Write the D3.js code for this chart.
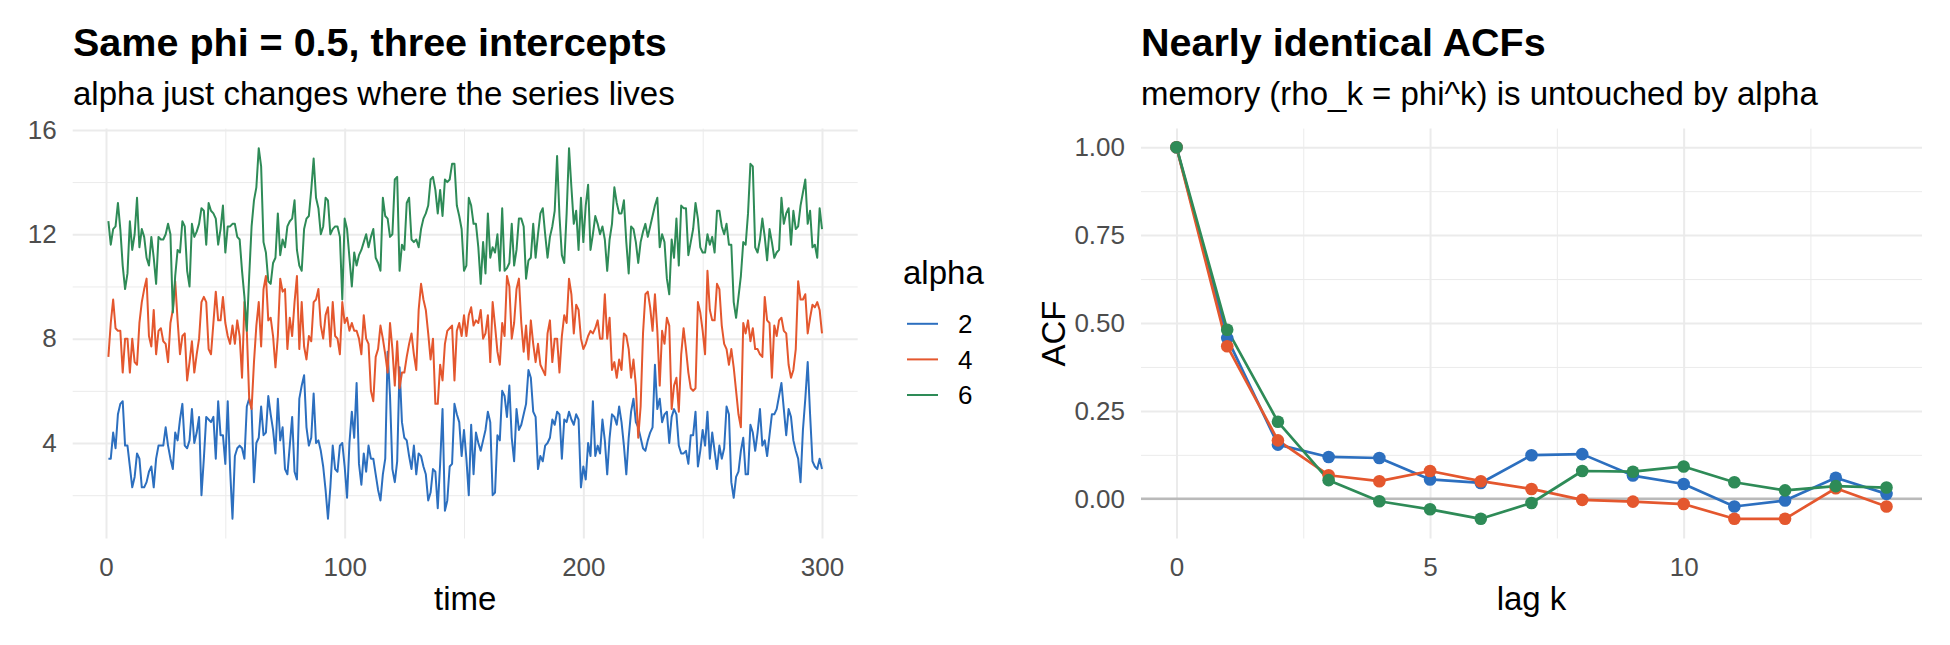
<!DOCTYPE html>
<html>
<head>
<meta charset="utf-8">
<script src="https://cdn.jsdelivr.net/npm/d3@7"></script>
<style>
  body { margin:0; background:#ffffff; }
  svg { font-family: "Liberation Sans", Arial, sans-serif; display:block; }
  .gridMajor line { stroke:#ebebeb; stroke-width:2; }
  .gridMinor line { stroke:#ebebeb; stroke-width:1; }
  .tickText text { fill:#4d4d4d; font-size:26px; font-family:"Liberation Sans", Arial, sans-serif; }
  .title { font-size:39.5px; font-weight:bold; fill:#000; }
  .subtitle { font-size:33px; fill:#000; }
  .label { font-size:33px; fill:#000; }
  .legendText { font-size:26px; fill:#000; }
</style>
</head>
<body>
<svg id="chart"></svg>
<script>
//simulated AR(1) series, one value per time step 1..300
var alpha2 = [3.4,3.4,4.4,3.8,5.1,5.5,5.6,3.9,3.9,3.1,2.3,2.7,3.6,3.4,2.3,2.3,2.5,2.9,3.1,2.3,
  3.4,3.9,3.9,3.9,4.6,3.9,3.4,3.0,4.4,4.1,4.9,5.5,3.9,3.8,4.1,5.3,4.0,4.4,5.0,2.0,
  3.4,5.0,4.9,4.8,5.0,3.4,5.6,4.3,4.3,3.2,5.6,3.0,1.1,3.5,3.8,3.9,3.8,3.4,5.4,5.7,
  5.3,2.5,4.0,4.2,5.4,4.3,4.4,5.8,5.1,4.5,3.6,5.7,
  4.1,4.6,3.0,2.8,3.9,5.0,2.9,2.6,5.7,6.2,6.6,4.6,3.9,4.2,5.9,4.0,4.1,3.7,3.1,2.2,
  1.1,2.3,3.9,3.0,2.9,3.9,4.0,3.1,1.9,4.0,5.2,4.2,6.3,3.2,2.4,3.6,2.9,3.9,3.4,3.4,
  2.8,2.2,1.8,2.8,3.4,7.5,5.8,3.0,2.5,3.3,6.9,4.8,4.2,4.1,3.5,3.0,3.9,2.8,3.6,3.5,
  3.1,2.8,1.8,2.1,3.0,2.9,1.5,3.2,5.3,1.4,1.8,3.1,3.2,5.5,5.1,4.8,3.5,4.5,3.4,2.0,
  4.7,2.8,4.4,4.0,3.7,4.1,4.5,5.2,4.8,2.0,2.1,4.3,4.1,6.0,5.8,5.0,6.2,4.2,3.3,5.3,
  4.5,4.7,5.1,5.5,6.8,6.5,5.2,5.0,3.0,3.5,3.3,3.9,4.0,4.2,4.9,4.7,5.2,5.1,3.4,4.9,
  4.8,5.2,4.9,4.7,5.1,4.9,2.3,3.1,2.6,4.0,3.5,5.6,3.5,3.9,3.6,4.9,4.1,2.8,4.2,5.1,
  5.0,4.7,5.4,4.8,3.9,2.8,4.2,5.2,5.7,4.8,4.6,4.2,3.8,3.7,4.1,4.4,
  4.6,7.0,5.3,5.7,4.8,5.1,5.2,4.0,5.0,5.3,5.1,3.9,3.6,3.6,3.7,3.2,4.3,4.3,5.2,3.1,
  3.7,4.5,3.9,5.2,3.4,4.4,3.7,3.0,3.9,3.4,3.8,5.4,5.1,2.5,1.9,2.7,2.9,3.7,4.2,2.8,
  2.8,4.7,4.4,3.7,4.4,5.3,3.9,4.1,3.5,4.3,5.1,5.1,5.3,5.8,6.3,5.3,4.3,5.3,5.0,4.1,
  3.7,3.4,2.5,4.5,5.7,7.1,5.1,3.3,3.1,3.0,3.4,3.0]

var alpha4 = [7.3,8.6,9.5,8.4,8.3,8.3,6.7,8.0,8.0,6.7,8.0,7.1,7.0,8.6,9.4,9.9,10.3,8.1,7.7,9.1,
  7.4,8.3,8.4,7.9,7.8,7.1,8.6,9.1,10.2,8.7,7.4,8.1,8.2,6.4,7.1,7.9,6.7,7.4,8.0,9.4,
  9.6,9.4,7.6,
  7.4,8.6,9.8,8.7,8.7,9.6,8.6,8.1,7.8,8.5,7.8,8.7,8.1,6.5,9.4,8.3,5.7,5.3,7.1,8.5,
  9.4,7.7,9.9,10.4,8.7,8.8,8.1,6.9,8.1,10.3,9.8,9.9,7.6,8.8,8.1,9.4,10.4,
  7.6,9.4,7.7,7.2,8.1,7.9,9.4,9.5,9.9,8.5,8.0,8.9,9.2,7.7,9.4,8.1,8.0,7.4,9.4,8.6,
  8.8,8.3,8.6,8.3,8.3,8.0,7.4,8.9,8.0,7.8,6.0,5.6,7.3,7.6,8.5,8.0,7.4,6.7,8.6,7.6,
  6.2,7.9,6.1,6.7,6.7,7.3,7.8,8.2,7.4,6.8,9.1,10.1,9.5,9.1,8.2,7.2,8.0,5.5,5.5,7.0,
  6.4,7.8,8.3,8.4,8.5,6.4,8.3,8.6,8.1,8.9,8.1,8.9,
  9.2,8.5,8.7,8.6,9.1,8.0,8.2,8.9,7.1,9.4,8.5,7.5,7.0,8.6,8.1,10.4,10.0,8.0,8.6,9.9,
  10.3,8.6,7.5,8.5,7.2,8.7,7.8,7.1,7.8,7.0,6.8,6.6,8.2,8.7,7.1,8.0,8.0,6.7,8.1,8.9,
  8.6,10.3,9.7,8.2,9.3,9.1,8.0,7.6,7.8,8.1,8.3,8.2,8.4,8.7,8.0,8.0,9.7,8.0,8.8,6.8,
  7.1,6.5,7.2,6.8,8.2,8.1,7.6,6.5,7.2,6.2,4.2,5.4,8.2,9.7,9.8,9.2,
  8.3,9.7,8.3,6.2,8.3,7.8,8.8,8.5,5.3,6.2,6.5,5.2,7.4,8.4,7.6,6.7,6.1,6.0,6.1,9.4,
  9.0,8.3,7.4,10.6,9.1,8.7,8.7,10.1,9.9,8.5,7.8,7.6,7.0,7.6,6.9,6.0,5.1,4.6,8.6,8.2,
  8.7,7.9,8.4,7.6,7.6,7.4,7.3,9.6,8.7,8.6,6.5,8.5,8.1,8.7,8.8,8.3,8.2,7.0,6.5,6.8,
  7.6,10.2,9.5,9.5,9.7,8.2,8.8,9.3,9.2,9.4,9.1,8.2]

var alpha6 = [12.5,11.6,12.2,12.3,13.2,12.2,10.8,9.9,10.5,12.5,11.4,12.0,13.4,11.5,12.2,11.9,11.1,10.8,11.9,11.1,
  10.1,11.9,11.8,11.8,12.0,12.4,12.0,9.0,10.4,11.4,11.3,12.5,12.3,10.6,10.0,12.4,11.9,12.1,12.4,13.0,
  12.9,11.6,13.2,12.9,12.8,12.6,11.6,12.2,13.1,11.3,12.3,12.3,12.4,12.4,11.9,11.8,10.6,9.6,8.3,10.4,
  12.3,13.3,13.8,15.3,14.6,11.7,11.3,10.2,10.1,10.9,11.1,12.8,11.2,11.8,11.5,12.3,12.5,12.6,13.3,11.4,
  10.8,10.6,12.2,12.6,12.7,13.7,14.9,13.4,13.0,12.0,12.3,13.4,13.3,12.0,12.2,12.3,12.3,11.9,9.5,12.6,
  12.2,11.1,10.0,11.3,10.8,11.2,11.4,11.7,12.0,11.5,11.9,12.2,11.1,10.9,10.6,13.4,12.7,12.6,11.9,12.0,
  14.1,14.2,10.6,11.6,11.4,13.2,13.4,11.8,11.7,11.8,11.5,12.2,12.6,12.8,13.1,14.1,14.2,13.7,12.8,13.7,
  12.7,14.1,14.0,14.1,14.7,14.7,13.1,12.7,12.2,10.6,10.8,13.4,13.1,12.4,12.4,11.5,10.1,11.7,10.5,12.8,
  11.1,11.5,11.3,12.0,10.6,13.0,10.6,10.7,10.9,12.4,10.8,11.4,12.6,12.6,12.3,10.3,11.0,11.1,12.4,11.1,
  12.0,12.8,13.0,12.0,11.1,11.9,12.3,12.9,15.0,12.7,11.2,10.9,12.8,15.3,13.8,12.4,12.9,11.4,13.4,11.7,
  13.1,13.9,11.4,12.0,12.7,12.4,12.0,12.3,11.8,10.6,11.8,12.4,13.8,13.2,12.8,12.8,13.3,11.7,10.5,12.3,
  12.2,11.7,10.9,11.7,12.1,12.4,11.9,12.3,12.7,13.1,13.4,11.5,12.0,11.7,10.3,9.7,11.8,11.1,12.6,10.8,
  13.1,13.0,13.0,11.2,11.7,12.2,13.2,12.6,11.5,11.3,11.3,12.0,11.6,11.9,11.3,12.9,12.9,12.3,12.0,12.4,
  11.6,11.6,9.4,8.8,9.6,10.4,11.7,11.6,12.8,14.7,14.6,11.5,11.3,11.8,12.6,11.9,11.0,12.2,11.7,11.1,
  11.3,11.4,13.4,12.4,12.8,13.0,11.6,12.9,12.2,12.3,13.1,13.6,14.1,12.4,12.9,11.5,11.6,11.1,13.0,12.2]

//sample autocorrelations by lag
var lags = [0,1,2,3,4,5,6,7,8,9,10,11,12,13,14]
var acf2 = [1,0.457,0.154,0.119,0.116,0.055,0.045,0.124,0.127,0.066,0.042,-0.022,-0.005,0.060,0.014]
var acf4 = [1,0.434,0.166,0.067,0.050,0.079,0.050,0.028,-0.003,-0.008,-0.015,-0.057,-0.057,0.030,-0.022]
var acf6 = [1,0.481,0.219,0.053,-0.007,-0.030,-0.057,-0.012,0.079,0.077,0.092,0.047,0.024,0.036,0.032]

var alphaLevels = ["2","4","6"]
var alphaColors = ["#2c6fbf","#e4572e","#2e8b57"]

//tick values
var timeTicks = [0,100,200,300]
var timeMinor = [50,150,250]
var levelTicks = [4,8,12,16]
var levelMinor = [2,6,10,14]
var lagTicks = [0,5,10]
var lagMinor = [2.5,7.5,12.5]
var acfTicks = [0,0.25,0.5,0.75,1]
var acfMinor = [0.125,0.375,0.625,0.875]

//draws minor and major grid lines plus tick labels for one panel
var drawGrid = function(target,panel,xScale,yScale,xMajor,xMinor,yMajor,yMinor,yFormat)
{
    target.append("g")
          .classed("gridMinor",true)
          .call(d3.axisLeft(yScale).tickValues(yMinor).tickSize(-panel.width).tickFormat(""))
    target.append("g")
          .classed("gridMinor",true)
          .attr("transform","translate(0,"+panel.height+")")
          .call(d3.axisBottom(xScale).tickValues(xMinor).tickSize(-panel.height).tickFormat(""))

    target.append("g")
          .classed("gridMajor",true)
          .classed("tickText",true)
          .call(d3.axisLeft(yScale).tickValues(yMajor).tickSize(-panel.width).tickPadding(16).tickFormat(yFormat))
    target.append("g")
          .classed("gridMajor",true)
          .classed("tickText",true)
          .attr("transform","translate(0,"+panel.height+")")
          .call(d3.axisBottom(xScale).tickValues(xMajor).tickSize(-panel.height).tickPadding(19))

    target.selectAll(".domain").remove()
    target.selectAll("g").attr("font-family",null).attr("font-size",null)
}

//left panel: the three series over time
var drawSeries = function(svg)
{
    var panel = {x:72.7,y:128.6,width:785,height:409.9}

    var xScale = d3.scaleLinear()
        .domain([-13.95,314.95])
        .range([0,panel.width])
    var yScale = d3.scaleLinear()
        .domain([0.34,16.05])
        .range([panel.height,0])

    var target = svg.append("g")
        .attr("transform","translate("+panel.x+","+panel.y+")")

    drawGrid(target,panel,xScale,yScale,timeTicks,timeMinor,levelTicks,levelMinor,d3.format("d"))

    var line = d3.line()
        .x(function(d,i){return xScale(i+1)})
        .y(function(d){return yScale(d)})

    var series = [alpha2,alpha4,alpha6]
    target.selectAll(".series")
        .data(series)
        .enter()
        .append("path")
        .classed("series",true)
        .attr("d",line)
        .attr("fill","none")
        .attr("stroke",function(d,i){return alphaColors[i]})
        .attr("stroke-width",2)
        .attr("stroke-linejoin","round")

    //labels
    svg.append("text").classed("title",true)
       .text("Same phi = 0.5, three intercepts")
       .attr("x",73).attr("y",56)
    svg.append("text").classed("subtitle",true)
       .text("alpha just changes where the series lives")
       .attr("x",73).attr("y",105)
    svg.append("text").classed("label",true)
       .text("time")
       .attr("text-anchor","middle")
       .attr("x",panel.x+panel.width/2)
       .attr("y",610)
}

var drawLegend = function(svg)
{
    var legend = svg.append("g")
        .attr("transform","translate(903,0)")

    legend.append("text").classed("label",true)
          .text("alpha")
          .attr("x",0).attr("y",284)

    var entries = legend.selectAll(".legendEntry")
        .data(alphaLevels)
        .enter()
        .append("g")
        .classed("legendEntry",true)
        .attr("transform",function(d,i){return "translate(0,"+(323.8+i*35.6)+")"})

    entries.append("line")
           .attr("x1",4).attr("x2",35)
           .attr("y1",0).attr("y2",0)
           .attr("stroke",function(d,i){return alphaColors[i]})
           .attr("stroke-width",2)

    entries.append("text").classed("legendText",true)
           .text(function(d){return d})
           .attr("x",55)
           .attr("y",9.3)
}

//right panel: acf by lag
var drawAcf = function(svg)
{
    var panel = {x:1141,y:128.6,width:781,height:409.9}

    var xScale = d3.scaleLinear()
        .domain([-0.7,14.7])
        .range([0,panel.width])
    var yScale = d3.scaleLinear()
        .domain([-0.113,1.053])
        .range([panel.height,0])

    var target = svg.append("g")
        .attr("transform","translate("+panel.x+","+panel.y+")")

    drawGrid(target,panel,xScale,yScale,lagTicks,lagMinor,acfTicks,acfMinor,d3.format(".2f"))

    //zero reference line
    target.append("line")
          .attr("x1",0).attr("x2",panel.width)
          .attr("y1",yScale(0)).attr("y2",yScale(0))
          .attr("stroke","#bababa")
          .attr("stroke-width",2.5)

    var line = d3.line()
        .x(function(d,i){return xScale(lags[i])})
        .y(function(d){return yScale(d)})

    var series = [acf2,acf4,acf6]
    target.selectAll(".acfLine")
        .data(series)
        .enter()
        .append("path")
        .classed("acfLine",true)
        .attr("d",line)
        .attr("fill","none")
        .attr("stroke",function(d,i){return alphaColors[i]})
        .attr("stroke-width",2.7)
        .attr("stroke-linejoin","round")

    series.forEach(function(values,k)
    {
        target.selectAll(".pts"+k)
            .data(values)
            .enter()
            .append("circle")
            .classed("pts"+k,true)
            .attr("cx",function(d,i){return xScale(lags[i])})
            .attr("cy",function(d){return yScale(d)})
            .attr("r",6.3)
            .attr("fill",alphaColors[k])
    })

    svg.append("text").classed("title",true)
       .text("Nearly identical ACFs")
       .attr("x",1141).attr("y",56)
    svg.append("text").classed("subtitle",true)
       .text("memory (rho_k = phi^k) is untouched by alpha")
       .attr("x",1141).attr("y",105)
    svg.append("text").classed("label",true)
       .text("lag k")
       .attr("text-anchor","middle")
       .attr("x",panel.x+panel.width/2)
       .attr("y",610)
    svg.append("text").classed("label",true)
       .text("ACF")
       .attr("text-anchor","middle")
       .attr("transform","translate(1065,"+(panel.y+panel.height/2)+") rotate(-90)")
}

var initChart = function()
{
    var svg = d3.select("#chart")
        .attr("width",1950)
        .attr("height",645)

    svg.append("rect")
       .attr("width",1950).attr("height",645)
       .attr("fill","#ffffff")

    drawSeries(svg)
    drawLegend(svg)
    drawAcf(svg)
}

initChart()
</script>
</body>
</html>
